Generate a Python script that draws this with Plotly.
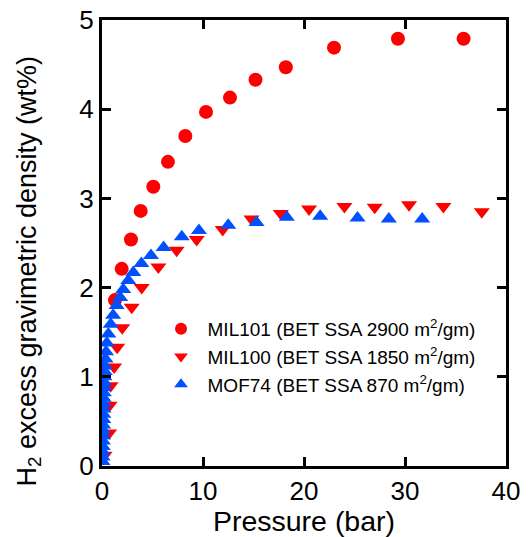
import plotly.graph_objects as go

mil101_p = [1.29, 1.95, 2.87, 3.83, 5.08, 6.53, 8.25, 10.3, 12.67, 15.2, 18.2, 22.97, 29.3, 35.8]
mil101_w = [1.86, 2.21, 2.54, 2.86, 3.13, 3.41, 3.70, 3.97, 4.13, 4.33, 4.47, 4.69, 4.79, 4.79]

mil100_p = [0.25, 0.7, 0.75, 0.85, 1.2, 1.5, 2.0, 2.94, 3.93, 5.58, 7.39, 9.37, 11.95, 14.8, 17.7, 20.5, 24.0, 27.0, 30.4, 33.8, 37.6]
mil100_w = [0.12, 0.37, 0.68, 0.90, 1.11, 1.33, 1.55, 1.78, 2.00, 2.23, 2.42, 2.54, 2.65, 2.77, 2.83, 2.88, 2.91, 2.90, 2.93, 2.91, 2.85]

mof74_p = [0.05, 0.06, 0.07, 0.08, 0.09, 0.10, 0.11, 0.12, 0.13, 0.14, 0.15, 0.16, 0.17, 0.18,
           0.20, 0.22, 0.24, 0.27, 0.30, 0.35, 0.40, 0.48, 0.63, 0.86, 1.1, 1.45, 1.8, 2.1, 2.6,
           3.1, 3.9, 4.85, 6.1, 7.9, 9.6, 12.5, 15.3, 18.3, 21.6, 25.3, 28.4, 31.7]
mof74_w = [0.05, 0.10, 0.16, 0.22, 0.28, 0.34, 0.40, 0.46, 0.52, 0.58, 0.64, 0.70, 0.76, 0.82,
           0.88, 0.94, 1.00, 1.06, 1.12, 1.20, 1.28, 1.38, 1.48, 1.59, 1.69, 1.80, 1.89, 1.98, 2.08,
           2.17, 2.27, 2.36, 2.45, 2.57, 2.64, 2.70, 2.73, 2.79, 2.80, 2.78, 2.77, 2.77]

x_title = "Pressure (bar)"
y_title = "H<sub>2</sub> excess gravimetric density (wt%)"

RED = "#ff0000"
BLUE = "#0050ff"
FONT = "Liberation Sans, Arial"

fig = go.Figure()
fig.add_trace(go.Scatter(x=mil101_p, y=mil101_w, mode="markers",
                         name="MIL101 (BET SSA 2900 m<sup>2</sup>/gm)",
                         marker=dict(symbol="circle", size=14, color=RED)))
fig.add_trace(go.Scatter(x=mil100_p, y=mil100_w, mode="markers",
                         name="MIL100 (BET SSA 1850 m<sup>2</sup>/gm)",
                         marker=dict(symbol="triangle-down", size=14, color=RED)))
fig.add_trace(go.Scatter(x=mof74_p, y=mof74_w, mode="markers",
                         name="MOF74 (BET SSA 870 m<sup>2</sup>/gm)",
                         marker=dict(symbol="triangle-up", size=14, color=BLUE)))

axis_common = dict(showline=True, linecolor="black", linewidth=3, mirror="ticks",
                   ticks="inside", ticklen=9, tickwidth=3, tickcolor="black",
                   showgrid=False, zeroline=False, automargin=False,
                   tickfont=dict(family=FONT, size=26, color="black"))

fig.update_layout(
    width=529, height=537,
    margin=dict(l=102, r=23, t=20, b=71),
    paper_bgcolor="white", plot_bgcolor="white",
    xaxis=dict(range=[0, 40], tickvals=[0, 10, 20, 30, 40],
               title=dict(text=x_title, standoff=0,
                          font=dict(family=FONT, size=28.5, color="black")),
               **axis_common),
    yaxis=dict(range=[0, 5], tickvals=[0, 1, 2, 3, 4, 5], **axis_common),
    legend=dict(x=0.13, y=0.35, xanchor="left", yanchor="top",
                bgcolor="rgba(0,0,0,0)", itemsizing="constant", itemwidth=43,
                tracegroupgap=0,
                font=dict(family=FONT, size=19, color="black")),
    showlegend=True,
    annotations=[dict(text=y_title, xref="paper", yref="paper",
                      x=-0.183, y=0.436, xanchor="center", yanchor="middle",
                      textangle=-90, showarrow=False,
                      font=dict(family=FONT, size=27, color="black"))],
)

fig.write_html("out.html")
